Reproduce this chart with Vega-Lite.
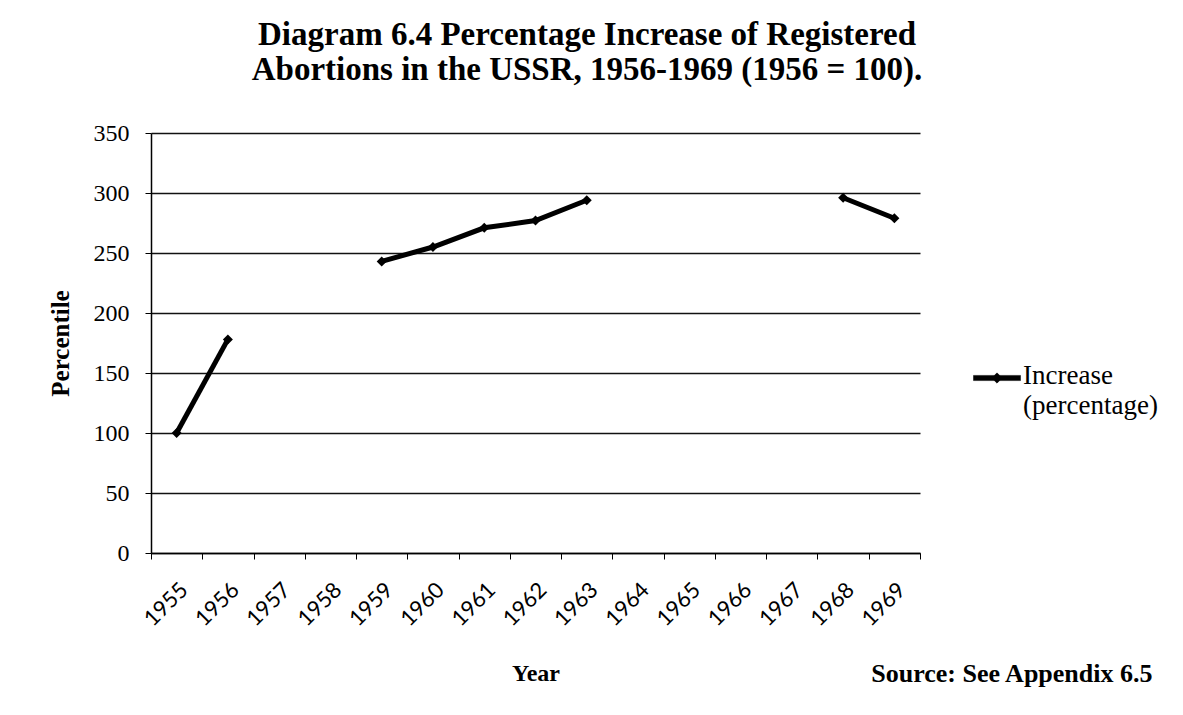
{
  "$schema": "https://vega.github.io/schema/vega-lite/v6.json",
  "background": "white",
  "padding": {"left": 48, "top": 19, "right": 20, "bottom": 10},
  "title": {
    "text": ["Diagram 6.4 Percentage Increase of  Registered", "Abortions in the USSR, 1956-1969 (1956 = 100)."],
    "font": "Liberation Serif",
    "fontSize": 33,
    "fontWeight": "bold",
    "color": "black",
    "anchor": "middle",
    "lineHeight": 35,
    "offset": 34,
    "dx": -16
  },
  "data": {
    "values": [
      {"year": "1955", "value": 100, "segment": "A", "series": "Increase (percentage)"},
      {"year": "1956", "value": 178, "segment": "A", "series": "Increase (percentage)"},
      {"year": "1959", "value": 243, "segment": "B", "series": "Increase (percentage)"},
      {"year": "1960", "value": 255, "segment": "B", "series": "Increase (percentage)"},
      {"year": "1961", "value": 271, "segment": "B", "series": "Increase (percentage)"},
      {"year": "1962", "value": 277, "segment": "B", "series": "Increase (percentage)"},
      {"year": "1963", "value": 294, "segment": "B", "series": "Increase (percentage)"},
      {"year": "1968", "value": 296, "segment": "C", "series": "Increase (percentage)"},
      {"year": "1969", "value": 279, "segment": "C", "series": "Increase (percentage)"}
    ]
  },
  "vconcat": [
    {
      "width": 769,
      "height": 420,
      "title": {
        "text": "Source: See Appendix 6.5",
        "orient": "bottom",
        "anchor": "end",
        "font": "Liberation Serif",
        "fontSize": 26,
        "fontWeight": "bold",
        "color": "black",
        "offset": -25,
        "dx": 232
      },
      "mark": {
        "type": "line",
        "strokeWidth": 5,
        "point": {"shape": "diamond", "size": 100, "filled": true, "color": "black"}
      },
      "encoding": {
        "x": {
          "field": "year",
          "type": "ordinal",
          "scale": {
            "domain": ["1955","1956","1957","1958","1959","1960","1961","1962","1963","1964","1965","1966","1967","1968","1969"],
            "paddingInner": 0,
            "paddingOuter": 0
          },
          "axis": {
            "title": "Year",
            "labelAngle": -45,
            "tickBand": "extent",
            "labelFont": "Lato",
            "labelFontSize": 22,
            "labelColor": "black",
            "labelPadding": 20,
            "tickSize": 6,
            "tickColor": "black",
            "domainColor": "black",
            "domainWidth": 1.5,
            "titleFont": "Liberation Serif",
            "titleFontSize": 24,
            "titleFontWeight": "bold",
            "titleColor": "black",
            "titlePadding": 32,
            "grid": false
          }
        },
        "y": {
          "field": "value",
          "type": "quantitative",
          "scale": {"domain": [0, 350], "nice": false},
          "axis": {
            "title": "Percentile",
            "values": [0, 50, 100, 150, 200, 250, 300, 350],
            "labelFont": "Liberation Serif",
            "labelFontSize": 24,
            "labelColor": "black",
            "labelPadding": 16,
            "tickSize": 6,
            "tickColor": "black",
            "domainColor": "black",
            "domainWidth": 1.5,
            "gridColor": "#111111",
            "gridWidth": 1.5,
            "titleFont": "Liberation Serif",
            "titleFontSize": 25,
            "titleFontWeight": "bold",
            "titleColor": "black",
            "titlePadding": 20
          }
        },
        "detail": {"field": "segment"},
        "color": {
          "field": "series",
          "type": "nominal",
          "scale": {"range": ["black"]},
          "legend": {
            "title": null,
            "orient": "none",
            "legendX": 822,
            "legendY": 221,
            "padding": 0,
            "symbolType": "M-1,-0.11L1,-0.11L1,0.11L-1,0.11Z M-0.22,0L0,-0.22L0.22,0L0,0.22Z",
            "symbolSize": 2209,
            "symbolFillColor": "black",
            "symbolStrokeColor": "black",
            "symbolStrokeWidth": 0.5,
            "labelExpr": "['Increase', '(percentage)']",
            "labelFont": "Liberation Serif",
            "labelFontSize": 27,
            "labelColor": "black",
            "labelOffset": 2,
            "labelLimit": 300,
            "labelBaseline": "middle",
            "encode": {
              "symbols": {"update": {"fill": {"value": "black"}, "stroke": {"value": "black"}}},
              "labels": {"update": {"lineHeight": {"value": 30}, "dy": {"value": -2}}}
            }
          }
        }
      }
    }
  ],
  "config": {
    "view": {"stroke": null},
    "concat": {"spacing": 0}
  }
}
